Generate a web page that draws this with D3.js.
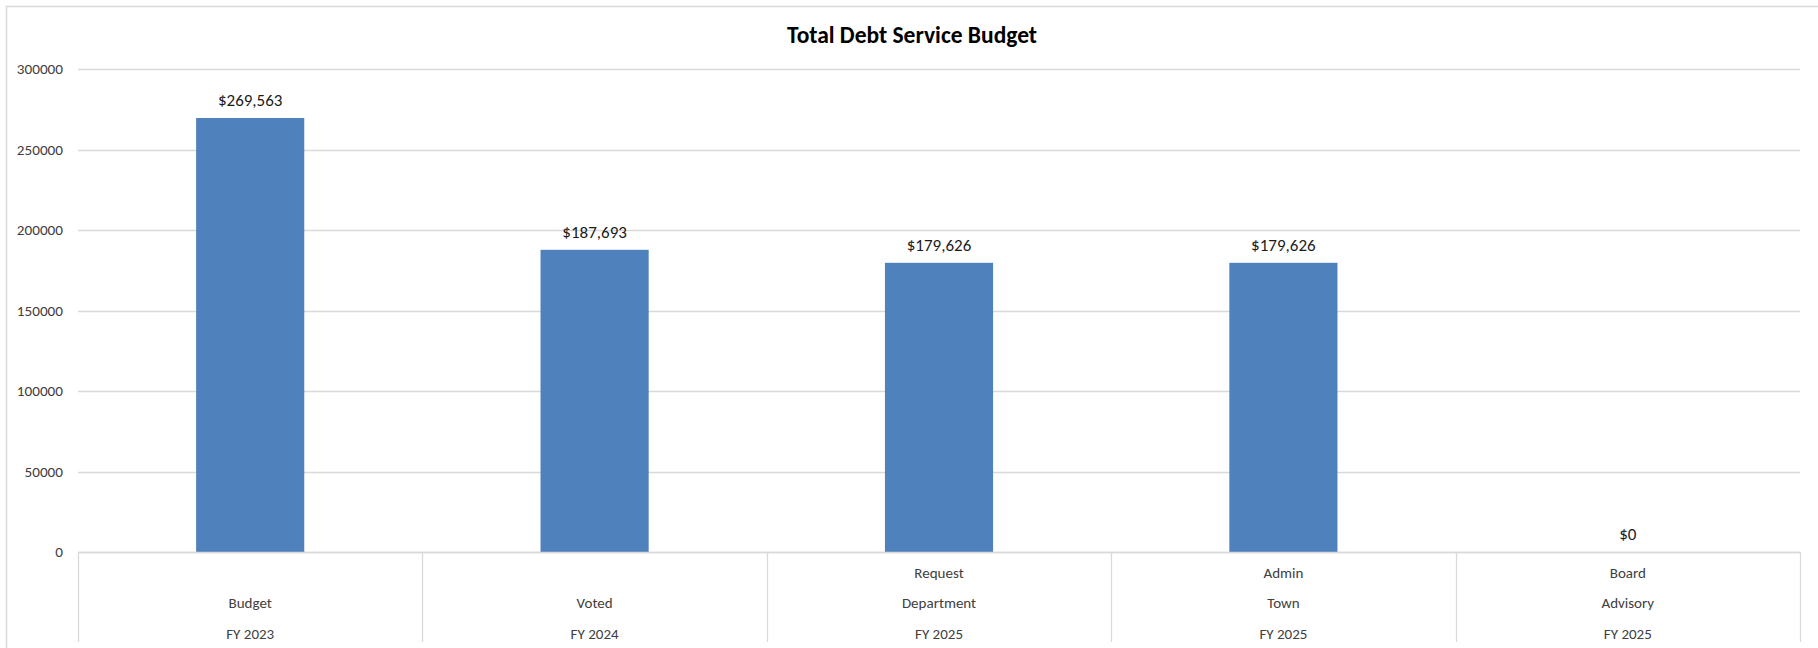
<!DOCTYPE html>
<html>
<head>
<meta charset="utf-8">
<script src="https://cdn.jsdelivr.net/npm/d3@7"></script>
<style>
  html, body { margin: 0; padding: 0; background: #fff; }
  svg { display: block; }
  text { font-family: Carlito, Calibri, Lato, "Open Sans", sans-serif; }
</style>
</head>
<body>
<svg id="chart" width="1818" height="648"></svg>
<script>
// Chart content
const titleText = "Total Debt Service Budget";
const categoryRows = [
  ["", "Budget", "FY 2023"],
  ["", "Voted", "FY 2024"],
  ["Request", "Department", "FY 2025"],
  ["Admin", "Town", "FY 2025"],
  ["Board", "Advisory", "FY 2025"]
];
const categoryKeys = ["FY 2023 Budget", "FY 2024 Voted", "FY 2025 Department Request", "FY 2025 Town Admin", "FY 2025 Advisory Board"];
const values = [269563, 187693, 179626, 179626, 0];
const yTicks = [0, 50000, 100000, 150000, 200000, 250000, 300000];

const W = 1818, H = 648;
const frame = { left: 6, top: 6 };
const plot = { left: 78, right: 1800, top: 69, bottom: 552 };
const gridColor = "#d9d9d9";
const barColor = "#4f81bd";

const svg = d3.select("#chart");

// outer chart frame (runs off the right and bottom edges)
svg.append("rect")
  .attr("x", frame.left + 0.5).attr("y", frame.top + 0.5)
  .attr("width", W + 20).attr("height", H + 20)
  .attr("fill", "#fff").attr("stroke", gridColor).attr("stroke-width", 1.5);

const x = d3.scaleBand().domain(categoryKeys).range([plot.left, plot.right]).paddingInner(0).paddingOuter(0);
const y = d3.scaleLinear().domain([0, 300000]).range([plot.bottom, plot.top]);

// horizontal gridlines
svg.append("g").selectAll("line").data(yTicks).join("line")
  .attr("x1", plot.left).attr("x2", plot.right)
  .attr("y1", d => Math.round(y(d)) + 0.5).attr("y2", d => Math.round(y(d)) + 0.5)
  .attr("stroke", gridColor).attr("stroke-width", 1.3);

// value axis labels
const yAxis = d3.axisLeft(y).tickValues(yTicks).tickFormat(d3.format("d")).tickSize(0).tickPadding(15);
const gy = svg.append("g").attr("transform", `translate(${plot.left},0)`).call(yAxis);
gy.select(".domain").remove();
gy.selectAll("text").attr("font-size", 15.2).attr("fill", "#404040").style("font-family", null);

// bars
const barW = x.bandwidth() * 0.314;
svg.append("g").selectAll("rect").data(values).join("rect")
  .attr("x", (d, i) => x(categoryKeys[i]) + (x.bandwidth() - barW) / 2)
  .attr("y", d => y(d))
  .attr("width", barW)
  .attr("height", d => y(0) - y(d))
  .attr("fill", barColor);

// data labels
const money = v => "$" + d3.format(",")(v);
svg.append("g").selectAll("text").data(values).join("text")
  .attr("x", (d, i) => x(categoryKeys[i]) + x.bandwidth() / 2)
  .attr("y", d => y(d) - 12)
  .attr("text-anchor", "middle")
  .attr("font-size", 17)
  .attr("fill", "#1a1a1a")
  .text(d => money(d));

// category axis: multi-level boxes with dividers
const axisBottom = 642;
svg.append("line")
  .attr("x1", plot.left).attr("x2", plot.right)
  .attr("y1", plot.bottom + 0.5).attr("y2", plot.bottom + 0.5)
  .attr("stroke", gridColor).attr("stroke-width", 1.3);
const dividers = categoryKeys.map(k => x(k)).concat([plot.right]);
svg.append("g").selectAll("line").data(dividers).join("line")
  .attr("x1", d => Math.round(d) + 0.5).attr("x2", d => Math.round(d) + 0.5)
  .attr("y1", plot.bottom).attr("y2", axisBottom)
  .attr("stroke", gridColor).attr("stroke-width", 1.3);

const rowY = [578, 608, 638.5];
const cat = svg.append("g").selectAll("g").data(categoryRows).join("g")
  .attr("transform", (d, i) => `translate(${x(categoryKeys[i]) + x.bandwidth() / 2},0)`);
cat.selectAll("text").data(d => d).join("text")
  .attr("y", (d, j) => rowY[j])
  .attr("text-anchor", "middle")
  .attr("font-size", 15)
  .attr("fill", "#404040")
  .text(d => d);

// title
svg.append("text")
  .attr("x", 912).attr("y", 43)
  .attr("text-anchor", "middle")
  .attr("font-size", 23.5)
  .attr("font-weight", "bold")
  .attr("fill", "#000")
  .text(titleText);
</script>
</body>
</html>
